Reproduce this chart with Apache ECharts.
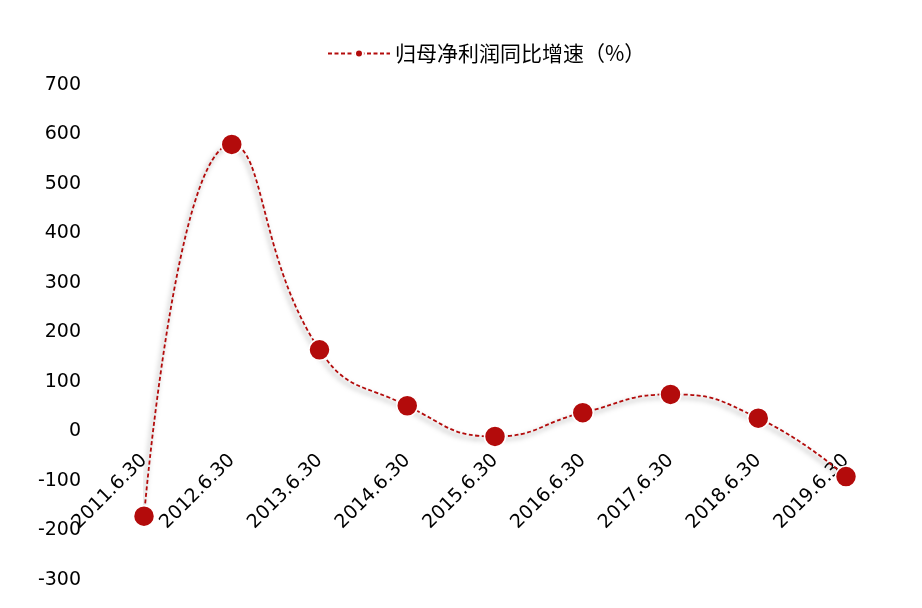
<!DOCTYPE html>
<html>
<head>
<meta charset="utf-8">
<script src="https://cdn.jsdelivr.net/npm/echarts@6/dist/echarts.min.js"></script>
<style>
  html, body { margin: 0; padding: 0; background: #fff; }
  #chart { width: 922px; height: 608px; }
</style>
</head>
<body>
<div id="chart"></div>
<script>
  // data
  const periods = ['2011.6.30', '2012.6.30', '2013.6.30', '2014.6.30', '2015.6.30',
                   '2016.6.30', '2017.6.30', '2018.6.30', '2019.6.30'];
  const growth = [-171, 580, 165, 52, -10, 38, 75, 27, -91];
  const seriesName = '归母净利润同比增速（%）';

  const RED = '#B30B0B';
  const FONT = "'DejaVu Sans', 'Noto Sans CJK SC', sans-serif";
  const FONT_CJK = "'Noto Sans CJK SC', sans-serif";

  const Y_MIN = -300, Y_MAX = 700;
  const GRID_TOP = 85, GRID_BOTTOM = 28;
  // pull the category axis up to the zero line (onZero doesn't kick in here)
  const plotH = 608 - GRID_TOP - GRID_BOTTOM;
  const zeroOffset = -plotH * (0 - Y_MIN) / (Y_MAX - Y_MIN);

  const chart = echarts.init(document.getElementById('chart'));
  chart.setOption({
    backgroundColor: '#fff',
    textStyle: { fontFamily: FONT, color: '#000' },
    legend: {
      top: 38,
      left: 322,
      itemWidth: 62,
      itemHeight: 10,
      itemGap: 5,
      textStyle: { fontSize: 21, color: '#000', fontFamily: FONT_CJK },
      data: [seriesName]
    },
    grid: { left: 144, right: 76, top: GRID_TOP, bottom: GRID_BOTTOM, outerBoundsMode: 'none' },
    xAxis: {
      type: 'category',
      data: periods,
      boundaryGap: false,
      position: 'bottom',
      offset: zeroOffset,
      axisLine: { show: false, onZero: false },
      axisTick: { show: false },
      splitLine: { show: false },
      axisLabel: {
        rotate: 45,
        margin: 26,
        interval: 0,
        fontSize: 19,
        color: '#000',
        fontFamily: FONT
      }
    },
    yAxis: {
      type: 'value',
      min: Y_MIN,
      max: Y_MAX,
      interval: 100,
      axisLine: { show: false },
      axisTick: { show: false },
      splitLine: { show: false },
      axisLabel: { margin: 63, fontSize: 19, color: '#000', fontFamily: FONT }
    },
    series: [{
      name: seriesName,
      type: 'line',
      data: growth,
      smooth: true,
      symbol: 'circle',
      symbolSize: 21,
      itemStyle: { color: RED, borderColor: '#fff', borderWidth: 1.5 },
      lineStyle: {
        color: RED,
        width: 1.8,
        type: [4, 2.5],
        shadowColor: 'rgba(0,0,0,0.5)',
        shadowBlur: 5,
        shadowOffsetX: -2,
        shadowOffsetY: 3
      },
      z: 3
    }]
  });
</script>
</body>
</html>
